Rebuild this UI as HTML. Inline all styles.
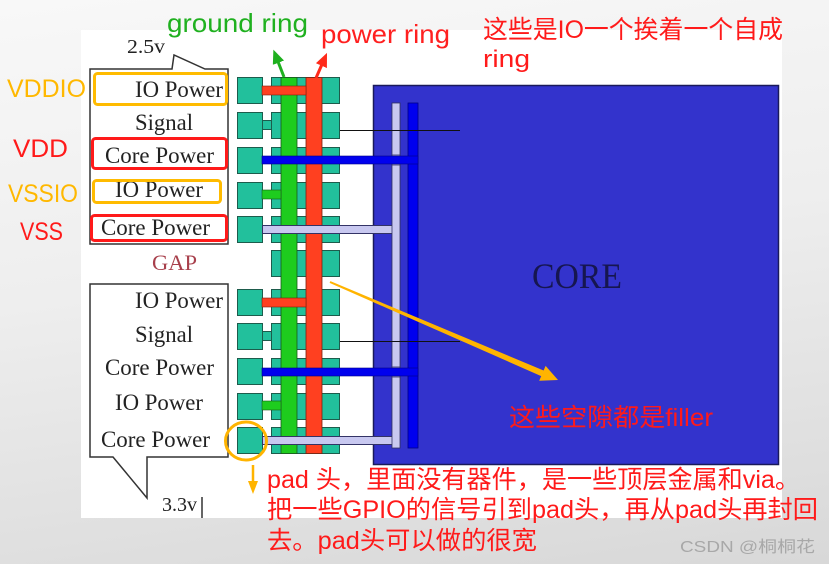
<!DOCTYPE html>
<html><head><meta charset="utf-8"><style>
html,body{margin:0;padding:0;}
body{width:829px;height:564px;overflow:hidden;background:linear-gradient(172deg,#f8f8f8 0%,#eeeeee 45%,#d8d8d8 100%);}
svg{display:block;}
.serif{font-family:"Liberation Serif",serif;fill:#222;}
.sans{font-family:"Liberation Sans","Noto Sans CJK SC",sans-serif;}
</style></head><body>
<svg width="829" height="564" viewBox="0 0 829 564" xmlns="http://www.w3.org/2000/svg">
<defs>
<marker id="mg" markerWidth="14" markerHeight="12" refX="4" refY="6" orient="auto" markerUnits="userSpaceOnUse"><path d="M0,0 L14,6 L0,12 Z" fill="#1fb01f"/></marker>
<marker id="mr" markerWidth="14" markerHeight="12" refX="4" refY="6" orient="auto" markerUnits="userSpaceOnUse"><path d="M0,0 L14,6 L0,12 Z" fill="#ff2a1a"/></marker>
</defs>
<!-- white figure area -->
<rect x="81" y="30" width="701" height="488" fill="#ffffff"/>

<!-- callout boxes -->
<path d="M90,69 H172 L174,55 L205,69 H228 V244 H90 Z" fill="#fff" stroke="#333" stroke-width="1.5"/>
<path d="M90,284 H228 V457 H147 V498 L113,457 H90 Z" fill="#fff" stroke="#333" stroke-width="1.5"/>

<!-- serif labels -->
<g class="serif" font-size="23">
<text x="135" y="97" textLength="88" lengthAdjust="spacingAndGlyphs">IO Power</text>
<text x="135" y="130" textLength="58" lengthAdjust="spacingAndGlyphs">Signal</text>
<text x="105" y="163" textLength="109" lengthAdjust="spacingAndGlyphs">Core Power</text>
<text x="115" y="197" textLength="88" lengthAdjust="spacingAndGlyphs">IO Power</text>
<text x="101" y="235" textLength="109" lengthAdjust="spacingAndGlyphs">Core Power</text>
<text x="135" y="308" textLength="88" lengthAdjust="spacingAndGlyphs">IO Power</text>
<text x="135" y="342" textLength="58" lengthAdjust="spacingAndGlyphs">Signal</text>
<text x="105" y="375" textLength="109" lengthAdjust="spacingAndGlyphs">Core Power</text>
<text x="115" y="410" textLength="88" lengthAdjust="spacingAndGlyphs">IO Power</text>
<text x="101" y="447" textLength="109" lengthAdjust="spacingAndGlyphs">Core Power</text>
</g>
<text class="serif" x="127" y="53" font-size="20" textLength="38" lengthAdjust="spacingAndGlyphs">2.5v</text>
<text class="serif" x="162" y="511" font-size="20" textLength="35" lengthAdjust="spacingAndGlyphs">3.3v</text>
<line x1="202" y1="497" x2="202" y2="518" stroke="#333" stroke-width="1.5"/>
<text class="serif" x="152" y="270" font-size="22" textLength="45" lengthAdjust="spacingAndGlyphs" style="fill:#a8404c">GAP</text>

<!-- highlight boxes -->
<rect x="94.5" y="73.5" width="132" height="31" rx="3" fill="none" stroke="#ffbb00" stroke-width="3"/>
<rect x="92.5" y="138.5" width="134" height="30" rx="3" fill="none" stroke="#ff1a1a" stroke-width="3"/>
<rect x="93.5" y="180.5" width="127" height="22" rx="3" fill="none" stroke="#ffbb00" stroke-width="3"/>
<rect x="91.5" y="215.5" width="135" height="25" rx="3" fill="none" stroke="#ff1a1a" stroke-width="3"/>

<g class="sans" font-size="25">
<text x="7" y="97" textLength="79" lengthAdjust="spacingAndGlyphs" fill="#ffb800">VDDIO</text>
<text x="13" y="157" textLength="55" lengthAdjust="spacingAndGlyphs" fill="#ff1a1a">VDD</text>
<text x="8" y="202" textLength="70" lengthAdjust="spacingAndGlyphs" fill="#ffb800">VSSIO</text>
<text x="20" y="240" textLength="43" lengthAdjust="spacingAndGlyphs" fill="#ff1a1a">VSS</text>
</g>

<!-- core -->
<rect x="373.5" y="85.5" width="405" height="379" fill="#3333cc" stroke="#1a1a5a" stroke-width="1.5"/>
<text class="serif" x="532" y="288" font-size="36" textLength="90" lengthAdjust="spacingAndGlyphs" style="fill:#161650">CORE</text>
<rect x="392" y="103" width="8" height="345" fill="#c8c8f0" stroke="#333366" stroke-width="0.8"/>
<rect x="408" y="103" width="10" height="345" fill="#0000ee" stroke="#000088" stroke-width="0.8"/>

<!-- pads -->
<g fill="#22c09c" stroke="#1d5c4c" stroke-width="1">
<rect x="237.5" y="77.5" width="25" height="26"/>
<rect x="237.5" y="112.5" width="25" height="26"/>
<rect x="237.5" y="147.5" width="25" height="26"/>
<rect x="237.5" y="182.5" width="25" height="26"/>
<rect x="237.5" y="216.5" width="25" height="26"/>
<rect x="237.5" y="289.5" width="25" height="26"/>
<rect x="237.5" y="323.5" width="25" height="26"/>
<rect x="237.5" y="358.5" width="25" height="26"/>
<rect x="237.5" y="393.5" width="25" height="26"/>
<rect x="237.5" y="427.5" width="25" height="26"/>

<rect x="271.5" y="77.5" width="68" height="26"/>
<rect x="271.5" y="112.5" width="68" height="26"/>
<rect x="271.5" y="147.5" width="68" height="26"/>
<rect x="271.5" y="182.5" width="68" height="26"/>
<rect x="271.5" y="216.5" width="68" height="26"/>
<rect x="271.5" y="250.5" width="68" height="26"/>
<rect x="271.5" y="289.5" width="68" height="26"/>
<rect x="271.5" y="323.5" width="68" height="26"/>
<rect x="271.5" y="358.5" width="68" height="26"/>
<rect x="271.5" y="393.5" width="68" height="26"/>
<rect x="271.5" y="427.5" width="68" height="26"/>
<!-- signal connectors -->
<rect x="262.5" y="120.5" width="9" height="9"/>
<rect x="262.5" y="331.5" width="9" height="9"/>
</g>

<!-- vertical rings -->
<rect x="281" y="77.5" width="16" height="376" fill="#1ecc1e" stroke="#1a5a1a" stroke-width="0.8"/>
<rect x="306" y="77.5" width="16" height="376" fill="#ff4020" stroke="#7a2010" stroke-width="0.8"/>

<!-- stubs upper -->
<rect x="262" y="86" width="44" height="9" fill="#ff4020" stroke="#7a2010" stroke-width="0.6"/>
<rect x="262" y="190" width="19" height="9" fill="#1ecc1e" stroke="#1a5a1a" stroke-width="0.6"/>
<rect x="262" y="156" width="156" height="8" fill="#0000ee" stroke="#000088" stroke-width="0.6"/>
<rect x="262.5" y="225.5" width="134" height="8" fill="#c8c8f0" stroke="#333366" stroke-width="1"/>
<!-- stubs lower -->
<rect x="262" y="298" width="44" height="9" fill="#ff4020" stroke="#7a2010" stroke-width="0.6"/>
<rect x="262" y="401" width="19" height="9" fill="#1ecc1e" stroke="#1a5a1a" stroke-width="0.6"/>
<rect x="262" y="368" width="156" height="8" fill="#0000ee" stroke="#000088" stroke-width="0.6"/>
<rect x="262.5" y="436.5" width="134" height="8" fill="#c8c8f0" stroke="#333366" stroke-width="1"/>
<!-- re-draw lavender vertical over joints -->
<rect x="392" y="103" width="8" height="52" fill="#c8c8f0" stroke="#333366" stroke-width="0.8"/>
<rect x="392" y="165" width="8" height="202" fill="#c8c8f0" stroke="#333366" stroke-width="0.8"/>
<rect x="392" y="377" width="8" height="71" fill="#c8c8f0" stroke="#333366" stroke-width="0.8"/>

<!-- signal lines -->
<line x1="340" y1="130.5" x2="460" y2="130.5" stroke="#111" stroke-width="1"/>
<line x1="340" y1="341.5" x2="460" y2="341.5" stroke="#111" stroke-width="1"/>

<!-- ring labels and arrows -->
<text class="sans" x="167" y="32" font-size="26" textLength="141" lengthAdjust="spacingAndGlyphs" fill="#1fb01f">ground ring</text>
<text class="sans" x="321" y="43" font-size="26" textLength="129" lengthAdjust="spacingAndGlyphs" fill="#ff2020">power ring</text>
<line x1="284" y1="77" x2="277" y2="59" stroke="#1fb01f" stroke-width="3" marker-end="url(#mg)"/>
<line x1="316" y1="78" x2="323" y2="62" stroke="#ff2a1a" stroke-width="3" marker-end="url(#mr)"/>

<g class="sans" font-size="25" fill="#ff1a1a">
<text x="483" y="38" textLength="300" lengthAdjust="spacingAndGlyphs">这些是IO一个挨着一个自成</text>
<text x="483" y="67" font-size="24" textLength="47" lengthAdjust="spacingAndGlyphs">ring</text>
<text x="509" y="426" textLength="204" lengthAdjust="spacingAndGlyphs">这些空隙都是filler</text>
<text x="267" y="488" textLength="533" lengthAdjust="spacingAndGlyphs">pad 头，里面没有器件，是一些顶层金属和via。</text>
<text x="267" y="518" textLength="551" lengthAdjust="spacingAndGlyphs">把一些GPIO的信号引到pad头，再从pad头再封回</text>
<text x="267" y="549" textLength="270" lengthAdjust="spacingAndGlyphs">去。pad头可以做的很宽</text>
</g>

<!-- orange arrow -->
<polygon points="329.6,282.9 330.4,281.1 543.6,370.5 545.6,365.9 558,380 539.2,380.7 541.2,376.1" fill="#ffb400"/>
<!-- orange circle -->
<ellipse cx="246" cy="441" rx="20.5" ry="19" fill="none" stroke="#ffb400" stroke-width="3"/>
<line x1="253" y1="465" x2="253" y2="483" stroke="#ffb400" stroke-width="2.5"/>
<polygon points="248,481 258,481 253,494" fill="#ffb400"/>

<text class="sans" x="680" y="552" font-size="16" textLength="135" lengthAdjust="spacingAndGlyphs" fill="#a8a8a8">CSDN @桐桐花</text>
</svg>
</body></html>
